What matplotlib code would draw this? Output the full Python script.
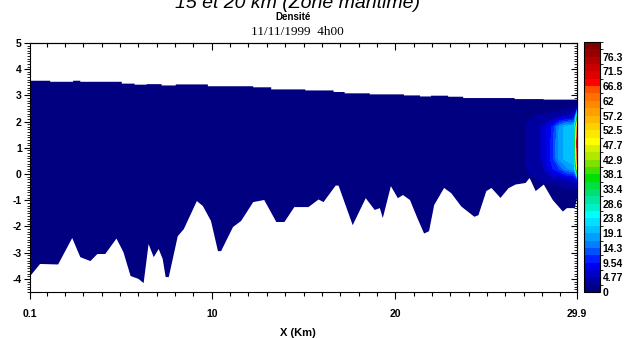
import numpy as np
import matplotlib
matplotlib.use('Agg')
import matplotlib.pyplot as plt
from matplotlib.colors import ListedColormap, BoundaryNorm
from matplotlib.patches import Polygon
from matplotlib.ticker import FixedLocator, MultipleLocator

plt.rcParams['font.family'] = ['Liberation Sans', 'DejaVu Sans']

# Surface libre : paliers (bords en km, cote en m)
surf_edges = [0.1, 1.2, 2.45, 2.84, 5.1, 5.8, 6.45, 7.27, 8.04, 9.79, 12.26, 13.24,
              15.1, 16.64, 17.24, 18.61, 20.47, 21.35, 21.95, 22.88, 23.7, 26.5, 28.08, 29.9]
surf_level = [3.56, 3.52, 3.56, 3.52, 3.45, 3.41, 3.43, 3.38, 3.42, 3.35, 3.31, 3.23,
              3.19, 3.13, 3.08, 3.04, 3.0, 2.96, 2.99, 2.95, 2.9, 2.86, 2.84]

# Fond (km, m)
bed_x = [0.1, 0.65, 1.63, 2.4, 2.84, 3.39, 3.77, 4.2, 4.81, 5.19, 5.58, 6.01, 6.29, 6.56,
         6.84, 7.11, 7.33, 7.49, 7.66, 8.15, 8.48, 9.19, 9.52, 9.96, 10.34, 10.51, 11.16,
         11.6, 12.26, 12.86, 13.52, 13.96, 14.5, 15.27, 15.82, 16.09, 16.75, 16.91, 17.68,
         18.39, 18.88, 19.16, 19.32, 19.76, 20.14, 20.42, 20.8, 21.18, 21.57, 21.84, 22.12,
         22.66, 23.05, 23.6, 24.31, 24.53, 24.96, 25.24, 25.73, 26.17, 26.55, 27.1, 27.32,
         27.65, 28.09, 28.58, 29.13, 29.35, 29.78, 29.9]
bed_z = [-3.9, -3.43, -3.45, -2.44, -3.17, -3.32, -3.05, -3.05, -2.46, -2.98, -3.89, -4.0,
         -4.16, -2.67, -3.17, -2.86, -3.24, -3.93, -3.93, -2.37, -2.1, -1.03, -1.22, -1.79,
         -2.94, -2.94, -2.02, -1.79, -1.07, -0.99, -1.83, -1.83, -1.26, -1.26, -0.97, -1.07,
         -0.44, -0.44, -1.95, -0.92, -1.37, -1.3, -1.68, -0.46, -0.92, -0.8, -0.99, -1.64,
         -2.27, -2.18, -1.18, -0.53, -0.73, -1.24, -1.63, -1.57, -0.65, -0.53, -0.91, -0.54,
         -0.4, -0.34, -0.15, -0.65, -0.4, -0.99, -1.43, -1.3, -1.3, -0.92]

# Densite sur une grille grossiere
dens_x = [0.1, 26.9, 27.3, 28.0, 28.5, 28.95, 29.3, 29.75, 29.9]
dens_z = [-4.5, -0.6, -0.2, 0.2, 0.6, 1.2, 1.8, 2.2, 2.6, 3.6]
dens = [
    [1, 1, 1, 1, 1, 1, 1, 1, 1],
    [1, 1, 1, 1, 1, 1.5, 2, 2, 2],
    [1, 1, 1.5, 3, 3.5, 4, 5, 6, 10],
    [1, 1, 3, 4, 9, 12, 16, 18, 45],
    [1, 1, 3.5, 5, 10, 18, 20, 21, 60],
    [1, 1, 3.5, 5, 10, 18, 20, 21, 70],
    [1, 1, 3.5, 5, 9, 17, 20, 21, 55],
    [1, 1, 2, 3, 3, 4, 5, 6, 30],
    [1, 1, 1, 1, 1, 1, 1, 1, 1],
    [1, 1, 1, 1, 1, 1, 1, 1, 1],
]

cbar_labels = ['0', '4.77', '9.54', '14.3', '19.1', '23.8', '28.6', '33.4', '38.1',
               '42.9', '47.7', '52.5', '57.2', '62', '66.8', '71.5', '76.3']
band_colors = ['#000080', '#0000a0', '#0000c8', '#0000f0', '#0020ff', '#0050ff', '#0080ff',
               '#00a0ff', '#00c0ff', '#00e0ff', '#00ffff', '#00f0c8', '#00e8a0', '#00e070',
               '#00e040', '#00e000', '#40e000', '#80e000', '#b0e800', '#d8f000', '#ffff00',
               '#ffe800', '#ffd000', '#ffb800', '#ffa000', '#ff8800', '#ff7000', '#ff5000',
               '#ff0000', '#e00000', '#c80000', '#b00000', '#980000', '#800000']

levels = np.linspace(0, 81.09, len(band_colors) + 1)
cmap = ListedColormap(band_colors)
norm = BoundaryNorm(levels, cmap.N)

fig = plt.figure(figsize=(6.27, 3.38), dpi=100)
ax = fig.add_axes([30/627, 46/338, 547/627, 249/338])
cax = fig.add_axes([584/627, 46/338, 16/627, 250/338])

cs = ax.contourf(dens_x, dens_z, np.array(dens), levels=levels, cmap=cmap, norm=norm)

# masque : surface puis fond
verts = []
for i in range(len(surf_level)):
    verts.append((surf_edges[i], surf_level[i]))
    verts.append((surf_edges[i + 1], surf_level[i]))
verts += list(zip(bed_x[::-1], bed_z[::-1]))
water = Polygon(verts, closed=True, transform=ax.transData, facecolor='none', edgecolor='none')
cs.set_clip_path(water)

ax.set_xlim(0.1, 29.9)
ax.set_ylim(-4.5, 5)

tick_font = dict(fontsize=7.5, fontweight='bold')
ax.set_xticks([0.1, 10, 20, 29.9])
ax.set_xticklabels(['0.1', '10', '20', '29.9'], **tick_font)
ax.xaxis.set_minor_locator(FixedLocator([v for v in range(1, 30) if v % 10]))
ax.tick_params(axis='x', which='major', direction='out', length=5, width=0.8, pad=7)
ax.tick_params(axis='x', which='minor', direction='out', length=3, width=0.8)
ax.set_yticks(range(-4, 6))
ax.set_yticklabels([str(v) for v in range(-4, 6)], **tick_font)
ax.yaxis.set_minor_locator(MultipleLocator(0.1))
ax.tick_params(axis='y', which='major', direction='out', length=4, width=0.8, pad=2)
ax.tick_params(axis='y', which='minor', direction='out', length=2.5, width=0.6)

top = ax.secondary_xaxis('top')
top.set_xticks([10, 20])
top.xaxis.set_minor_locator(FixedLocator([v for v in range(1, 30) if v % 10]))
top.tick_params(which='major', direction='in', length=5, width=0.8, labeltop=False)
top.tick_params(which='minor', direction='in', length=3, width=0.8)
right = ax.secondary_yaxis('right')
right.set_yticks(range(-4, 6))
right.yaxis.set_minor_locator(MultipleLocator(0.1))
right.tick_params(which='major', direction='in', length=4, width=0.8, labelright=False)
right.tick_params(which='minor', direction='in', length=2.5, width=0.6)

for sp in ax.spines.values():
    sp.set_linewidth(0.8)

cb = fig.colorbar(cs, cax=cax)
cb.set_ticks(levels[::2][:len(cbar_labels)])
cb.set_ticklabels(cbar_labels)
cax.tick_params(length=0, pad=2, labelsize=7.5)
for t in cax.get_yticklabels():
    t.set_fontweight('bold')
cb.outline.set_linewidth(0.8)

fig.text(0.475, 1 - 3/338, '15 et 20 km (Zone maritime)', ha='center', va='center',
         fontsize=14, style='italic')
fig.text(0.468, 1 - 17.5/338, 'Densité', ha='center', va='center', fontsize=7, fontweight='bold')
fig.text(0.475, 1 - 32/338, '11/11/1999  4h00', ha='center', va='center', fontsize=9.5,
         family=['Liberation Serif', 'DejaVu Serif'])
fig.text(0.475, 5/338, 'X (Km)', ha='center', va='center', fontsize=8, fontweight='bold')

fig.savefig('out.png', dpi=100)
